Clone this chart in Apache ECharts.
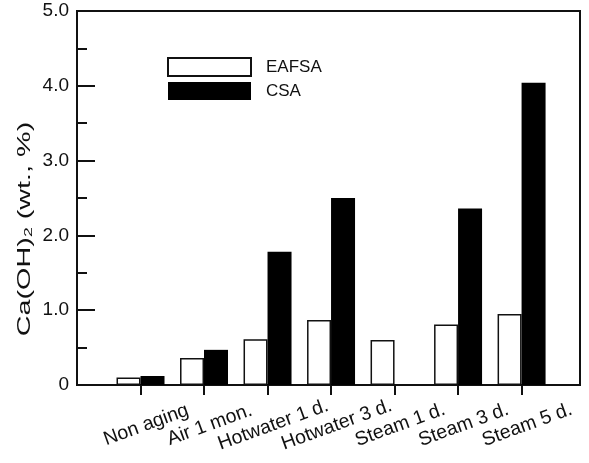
<!DOCTYPE html>
<html>
<head>
<meta charset="utf-8">
<script src="https://cdn.jsdelivr.net/npm/echarts@6/dist/echarts.min.js"></script>
<style>
html,body{margin:0;padding:0;background:#fff;}
#chart{width:589px;height:463px;}
</style>
</head>
<body>
<div id="chart"></div>
<script>
const categories = ['Non aging', 'Air 1 mon.', 'Hotwater 1 d.', 'Hotwater 3 d.', 'Steam 1 d.', 'Steam 3 d.', 'Steam 5 d.'];
const eafsa = [0.10, 0.36, 0.61, 0.87, 0.60, 0.81, 0.95];
const csa = [0.12, 0.47, 1.78, 2.50, null, 2.36, 4.04];
const yTicks = [0, 1, 2, 3, 4, 5];
const yTitle = '{a|Ca(OH)}{s|2}{a| (wt., %)}';

const FONT = 'Liberation Sans';
const positions = categories.map((c, i) => i + 1);
const toData = arr => arr.map((v, i) => [positions[i], v === null ? '-' : v]);

const chart = echarts.init(document.getElementById('chart'), null, {renderer: 'canvas'});
chart.setOption({
  animation: false,
  backgroundColor: '#fff',
  textStyle: {fontFamily: FONT, color: '#111'},
  grid: {left: 77, right: 9, top: 11, bottom: 78, show: true, borderColor: '#111', borderWidth: 2, backgroundColor: 'transparent'},
  legend: {
    orient: 'vertical',
    left: 167,
    top: 57,
    padding: 0,
    itemWidth: 83,
    itemHeight: 18,
    itemGap: 5,
    icon: 'rect',
    textStyle: {fontFamily: FONT, fontSize: 17, color: '#111', padding: [0, 0, 0, 10], lineHeight: 18},
    data: ['EAFSA', 'CSA']
  },
  graphic: [{
    type: 'text',
    x: 25,
    y: 229,
    rotation: Math.PI / 2,
    scaleX: 1.6,
    silent: true,
    style: {
      text: yTitle,
      align: 'center',
      verticalAlign: 'middle',
      rich: {
        a: {fontFamily: FONT, fontSize: 18, fill: '#111', color: '#111'},
        s: {fontFamily: FONT, fontSize: 11, fill: '#111', color: '#111', verticalAlign: 'bottom', padding: [7, 0, 0, 0]}
      }
    }
  }],
  xAxis: {
    type: 'value',
    min: 0,
    max: 7.92,
    interval: 1,
    splitLine: {show: false},
    axisLine: {show: true, lineStyle: {color: '#111', width: 2}},
    axisTick: {show: true, inside: false, length: 10, customValues: positions, lineStyle: {color: '#111', width: 2}},
    axisLabel: {
      customValues: positions,
      rotate: 20,
      align: 'center',
      verticalAlign: 'middle',
      margin: 42,
      padding: [0, 0, 0, 12],
      fontFamily: FONT,
      fontSize: 19.5,
      color: '#111',
      formatter: v => categories[Math.round(v) - 1] || ''
    }
  },
  yAxis: {
    type: 'value',
    min: yTicks[0],
    max: yTicks[yTicks.length - 1],
    interval: 1,
    splitLine: {show: false},
    axisLine: {show: true, lineStyle: {color: '#111', width: 2}},
    axisTick: {show: true, inside: true, length: 18, lineStyle: {color: '#111', width: 2}},
    minorTick: {show: true, splitNumber: 2, length: 10, lineStyle: {color: '#111', width: 2}},
    axisLabel: {
      margin: 8,
      fontFamily: FONT,
      fontSize: 19,
      color: '#111',
      formatter: v => v === 0 ? '0' : v.toFixed(1)
    }
  },
  series: [
    {
      name: 'EAFSA',
      type: 'bar',
      data: toData(eafsa),
      barWidth: 24,
      barGap: '0%',
      itemStyle: {color: '#fff', borderColor: '#111', borderWidth: 1.5}
    },
    {
      name: 'CSA',
      type: 'bar',
      data: toData(csa),
      barWidth: 24,
      barGap: '0%',
      itemStyle: {color: '#000', borderColor: '#000', borderWidth: 0}
    }
  ]
});
</script>
</body>
</html>
